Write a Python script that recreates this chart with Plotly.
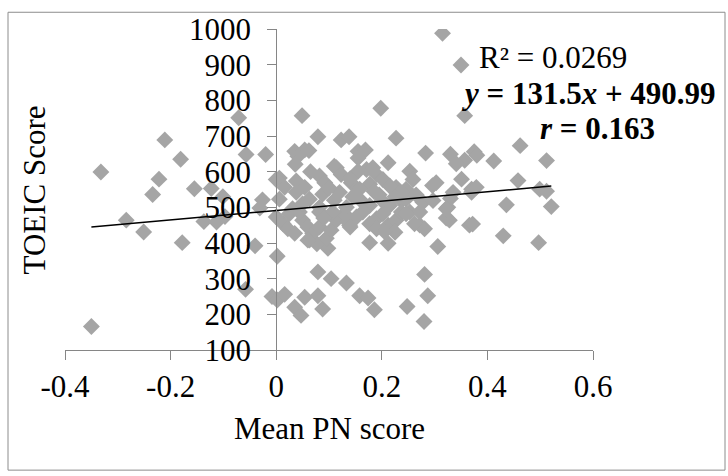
import plotly.graph_objects as go

# ---- data ----
pn_score = [
    -0.350, -0.332, -0.284, -0.251, -0.234, -0.222, -0.211, -0.181, -0.178, -0.155,
    -0.137, -0.123, -0.113, -0.101, -0.097, -0.071, -0.057, -0.058, -0.040, -0.026,
    -0.031, -0.020, -0.008,
    0.002, 0.016, 0.035, 0.047, 0.054, 0.079, 0.088, 0.079, 0.104, 0.133,
    0.158, 0.174, 0.186, 0.248, 0.280, 0.287, 0.281, 0.002, 0.306, 0.098,
    0.063, 0.077, 0.177, 0.212, 0.430, 0.497, 0.366, 0.372, 0.328, 0.272,
    0.281, 0.322,
    0.049, 0.198, 0.315, 0.350, 0.357, 0.079, 0.123, 0.138, 0.227, 0.462,
    0.283, 0.330, 0.375, 0.380, 0.412, 0.512, 0.357, 0.341, 0.035, 0.054,
    0.062, 0.041, 0.155, 0.169, 0.155, 0.212, 0.036, 0.114, 0.006, 0.253,
    0.259, 0.351, 0.458, 0.246, 0.370, 0.499, 0.512, 0.521, 0.436, 0.325,
    0.330, 0.303, 0.296, 0.335, 0.379, 0.370, 0.246, 0.278, 0.297, 0.253,
    0.272, 0.322, 0.237,
    0.000, 0.038, 0.054, 0.082, 0.092, 0.110, 0.123, 0.142, 0.155, 0.171,
    0.183, 0.190, 0.202, 0.227, 0.177, 0.158, 0.120, 0.088, 0.063, 0.038,
    0.016, 0.006, 0.031, 0.082, 0.133, 0.177, 0.215, 0.013, 0.022, 0.035,
    0.050, 0.060, 0.069, 0.060, 0.095, 0.082, 0.104, 0.114, 0.129, 0.139,
    0.152, 0.164, 0.177, 0.190, 0.202, 0.212, 0.227, 0.237, 0.000, 0.025,
    0.044, 0.082, 0.107, 0.246, 0.262, 0.145, 0.195, 0.225, 0.100, 0.065,
    0.140, 0.215, 0.185, 0.240, 0.265, 0.050, 0.110, 0.160, 0.200, 0.090,
    0.135, 0.190, 0.225, 0.205, 0.140,
]
toeic = [
    166, 599, 464, 431, 536, 579, 689, 635, 401, 552,
    460, 553, 459, 530, 474, 751, 648, 270, 392, 521,
    498, 648, 250,
    240, 256, 220, 197, 248, 252, 215, 319, 300, 288,
    252, 246, 213, 222, 180, 252, 312, 363, 390, 385,
    408, 398, 401, 399, 420, 401, 450, 453, 464, 450,
    440, 470,
    757, 778, 988, 899, 757, 698, 689, 698, 694, 673,
    652, 649, 656, 646, 630, 631, 632, 622, 657, 661,
    659, 643, 657, 661, 638, 625, 621, 611, 582, 601,
    578, 579, 575, 551, 551, 551, 545, 502, 507, 500,
    525, 569, 561, 542, 556, 542, 523, 514, 519, 487,
    487, 496, 519,
    578, 574, 556, 588, 569, 615, 592, 569, 601, 606,
    611, 592, 578, 556, 565, 551, 542, 537, 523, 542,
    556, 523, 496, 500, 500, 505, 505, 454, 440, 427,
    464, 445, 427, 408, 413, 445, 436, 464, 482, 450,
    473, 487, 454, 468, 482, 450, 464, 487, 473, 482,
    487, 487, 487, 482, 454, 530, 535, 530, 555, 600,
    580, 560, 545, 540, 535, 510, 520, 520, 520, 470,
    460, 440, 430, 432, 445,
]

slope = 131.5
intercept = 490.99

x_ticks = [-0.4, -0.2, 0, 0.2, 0.4, 0.6]
x_tick_labels = ["-0.4", "-0.2", "0", "0.2", "0.4", "0.6"]
y_ticks = [100, 200, 300, 400, 500, 600, 700, 800, 900, 1000]

fit_x = [min(pn_score), max(pn_score)]
fit_y = [slope * v + intercept for v in fit_x]

FONT = "Liberation Serif, Times New Roman, serif"
FS = 31
AXIS_GRAY = "#868686"

fig = go.Figure()
fig.add_trace(go.Scatter(
    x=pn_score, y=toeic, mode="markers",
    marker=dict(symbol="diamond", size=13, color="#A5A5A5", line=dict(width=0)),
    hoverinfo="x+y",
))
fig.add_trace(go.Scatter(
    x=fit_x, y=fit_y, mode="lines",
    line=dict(color="black", width=1.5),
    hoverinfo="skip",
))

fig.update_layout(
    width=728, height=476,
    margin=dict(l=65, r=135, t=24, b=126),
    paper_bgcolor="white", plot_bgcolor="white",
    showlegend=False,
    font=dict(family=FONT, size=FS, color="black"),
)
fig.update_xaxes(
    range=[-0.4, 0.6], tickvals=x_ticks, ticktext=x_tick_labels,
    showgrid=False, zeroline=False, showline=True,
    linecolor=AXIS_GRAY, linewidth=1,
    ticks="outside", ticklen=9, tickcolor=AXIS_GRAY, tickwidth=1,
    ticklabelstandoff=0,
    tickfont=dict(family=FONT, size=FS, color="black"),
)
fig.update_yaxes(
    range=[100, 1000], tickvals=y_ticks,
    showgrid=False, zeroline=False, showline=True,
    linecolor=AXIS_GRAY, linewidth=1,
    ticks="outside", ticklen=9, tickcolor=AXIS_GRAY, tickwidth=1,
    anchor="free", position=0.4,
    ticklabelstandoff=10,
    tickfont=dict(family=FONT, size=FS, color="black"),
)

def note(text, x, y, color="black", **kw):
    fig.add_annotation(text=text, xref="paper", yref="paper", x=x, y=y,
                       xanchor="center", yanchor="middle", showarrow=False,
                       font=dict(family=FONT, size=FS, color=color), **kw)

# axis titles
note("Mean PN score", 0.5, -0.245)
note("TOEIC Score", -0.057, 0.5, textangle=-90)

# trendline labels
note("R² = 0.0269", 0.924, 0.911)
note("<b><i>y</i> = 131.5<i>x</i> + 490.99</b>", 0.992, 0.798)
note("<b><i>r</i> = 0.163</b>", 1.009, 0.690)

# chart border
fig.add_shape(type="rect", xref="paper", yref="paper",
              x0=(8 - 65) / 528, x1=(725 - 65) / 528,
              y0=(350 - 472) / 326, y1=(350 - 7) / 326,
              line=dict(color="#8C8C8C", width=1), fillcolor="rgba(0,0,0,0)")

fig.write_html("out.html")
